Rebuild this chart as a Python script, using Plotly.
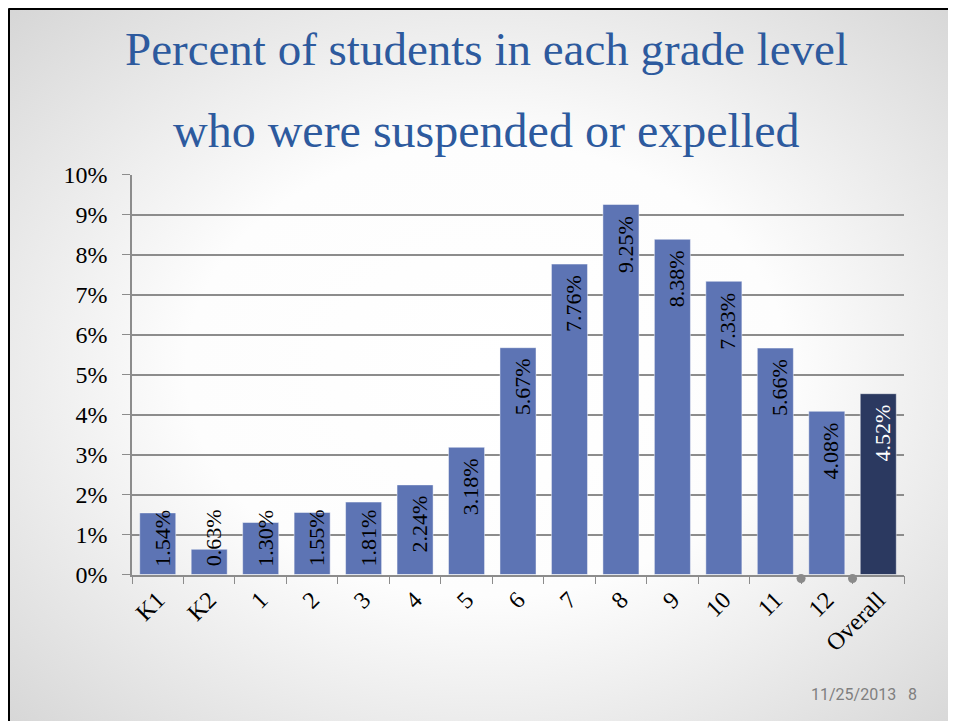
import base64
import plotly.graph_objects as go

# Chart data
grades = ["K1", "K2", "1", "2", "3", "4", "5", "6", "7", "8", "9", "10", "11", "12", "Overall"]
pct_suspended = [1.54, 0.63, 1.30, 1.55, 1.81, 2.24, 3.18, 5.67, 7.76, 9.25, 8.38, 7.33, 5.66, 4.08, 4.52]
y_ticks = [0, 1, 2, 3, 4, 5, 6, 7, 8, 9, 10]

BAR_BLUE = "#5d74b4"
BAR_NAVY = "#2b3960"
TITLE_BLUE = "#2d5a9e"
SERIF = "Liberation Serif, Times New Roman, serif"
W, H = 956, 721

# slide background: radial grey-to-white gradient as an svg image
svg = """<svg xmlns='http://www.w3.org/2000/svg' width='954' height='719' preserveAspectRatio='none'>
<defs><radialGradient id='g' cx='50%' cy='50%' r='75%'>
<stop offset='0' stop-color='#ffffff'/><stop offset='0.42' stop-color='#fdfdfd'/>
<stop offset='1' stop-color='#d2d2d2'/></radialGradient></defs>
<rect width='954' height='719' fill='url(#g)'/></svg>"""
bg_src = "data:image/svg+xml;base64," + base64.b64encode(svg.encode()).decode()

colors = [BAR_NAVY if g == "Overall" else BAR_BLUE for g in grades]

fig = go.Figure()
fig.add_trace(go.Bar(
    x=grades,
    y=pct_suspended,
    marker=dict(color=colors, line=dict(color="rgba(255,255,255,0.45)", width=1)),
    hoverinfo="x+y",
))

# rotated value labels, hung from the top of each bar (kept inside for short bars)
for i, (g, v) in enumerate(zip(grades, pct_suspended)):
    fig.add_annotation(
        x=i, y=max(v, 1.90), xref="x", yref="y",
        text=f"{v:.2f}%", textangle=-90, showarrow=False,
        xanchor="center", yanchor="top", yshift=-9, xshift=4,
        font=dict(family=SERIF, size=22, color="white" if g == "Overall" else "black"),
    )

# title, two lines spaced like the slide
fig.add_annotation(x=0.5, y=1 - 13 / H, xref="paper", yref="paper", showarrow=False,
                   yanchor="top", text="Percent of students in each grade level",
                   font=dict(family=SERIF, size=47, color=TITLE_BLUE))
fig.add_annotation(x=0.5, y=1 - 94 / H, xref="paper", yref="paper", showarrow=False,
                   yanchor="top", text="who were suspended or expelled",
                   font=dict(family=SERIF, size=48, color=TITLE_BLUE))

# footer
fig.add_annotation(x=911 / W, y=23 / H, xref="paper", yref="paper", showarrow=False,
                   xanchor="right", yanchor="bottom", text="11/25/2013&nbsp;&nbsp;&nbsp;8",
                   font=dict(family="Roboto, Arial, sans-serif", size=16, color="#7f7f7f"))

# slide frame (top and left edges)
fig.add_shape(type="line", xref="paper", yref="paper", x0=0.5 / W, x1=1, y0=1 - 0.5 / H, y1=1 - 0.5 / H,
              line=dict(color="black", width=3))
fig.add_shape(type="line", xref="paper", yref="paper", x0=0.5 / W, x1=0.5 / W, y0=0, y1=1 - 0.5 / H,
              line=dict(color="black", width=3))

y_dom = [154.5 / H, 554.5 / H]

# small grey dots under the axis at the last two category boundaries
for pos in [12.5, 13.5]:
    fig.add_shape(type="circle", xref="x", yref="paper", xsizemode="pixel", ysizemode="pixel",
                  xanchor=pos, yanchor=y_dom[0], x0=-4.5, x1=4.5, y0=-8.5, y1=0.5,
                  fillcolor="#8a8a8a", line=dict(width=0), layer="above")

fig.add_layout_image(dict(
    source=bg_src, xref="paper", yref="paper", x=2 / W, y=1 - 2 / H,
    sizex=1 - 2 / W, sizey=1 - 2 / H, sizing="stretch", xanchor="left", yanchor="top", layer="below",
))

fig.update_layout(
    width=W, height=H,
    margin=dict(l=0, r=0, t=0, b=0, pad=0),
    paper_bgcolor="white",
    plot_bgcolor="rgba(255,255,255,0.55)",
    bargap=0.3,
    showlegend=False,
    font=dict(family=SERIF, size=22, color="black"),
    xaxis=dict(
        type="category", automargin=False,
        domain=[124 / W, 896 / W],
        tickangle=-45, tickson="boundaries", ticks="outside", ticklen=8,
        tickcolor="#8c8c8c", showline=True, linecolor="#8c8c8c", linewidth=1.5,
        tickfont=dict(family=SERIF, size=24, color="black"),
        showgrid=False,
    ),
    yaxis=dict(
        automargin=False,
        domain=y_dom,
        range=[0, 10], tickvals=y_ticks, ticktext=[f"{t}%" for t in y_ticks],
        ticks="outside", ticklen=8, tickcolor="#8c8c8c",
        showline=True, linecolor="#8c8c8c", linewidth=1.5,
        showgrid=True, gridcolor="#8c8c8c", gridwidth=1.5,
        zeroline=False, ticklabelstandoff=10,
        tickfont=dict(family=SERIF, size=24, color="black"),
    ),
)

fig.write_html("out.html")
